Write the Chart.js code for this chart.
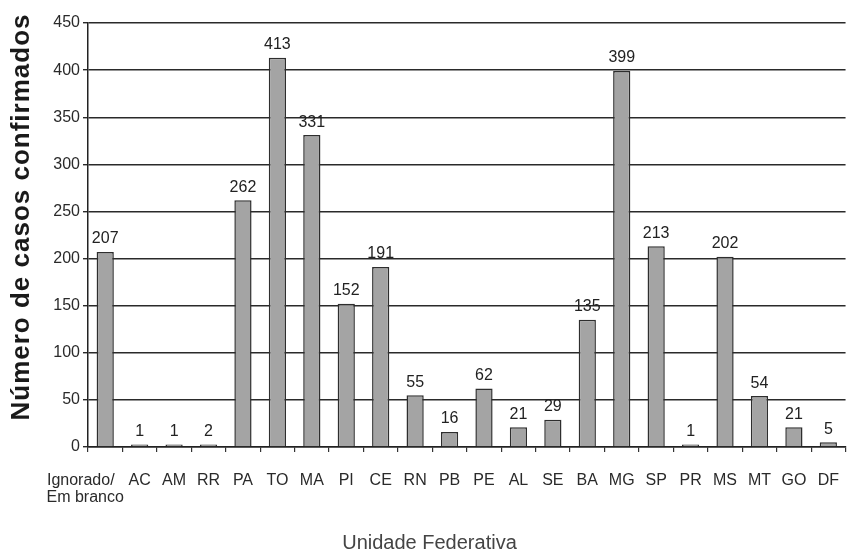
<!DOCTYPE html>
<html>
<head>
<meta charset="utf-8">
<script src="https://cdn.jsdelivr.net/npm/chart.js@4/dist/chart.umd.min.js"></script>
<style>
  html, body { margin: 0; padding: 0; background: #fff; overflow: hidden; }
  canvas { display: block; }
</style>
</head>
<body>
<canvas id="grafico" width="859" height="555"></canvas>
<script>
// Casos confirmados por Unidade Federativa
const categorias = [["Ignorado/", "Em branco"], "AC", "AM", "RR", "PA", "TO", "MA", "PI", "CE", "RN",
  "PB", "PE", "AL", "SE", "BA", "MG", "SP", "PR", "MS", "MT", "GO", "DF"];
const casosConfirmados = [207, 1, 1, 2, 262, 413, 331, 152, 191, 55,
  16, 62, 21, 29, 135, 399, 213, 1, 202, 54, 21, 5];
const eixoY = { min: 0, max: 450, passo: 50 };
const tituloY = "Número de casos confirmados";
const tituloX = "Unidade Federativa";

const fonte = "'Liberation Sans', Arial, sans-serif";

// Valores escritos acima de cada barra
const rotulosValores = {
  id: 'rotulosValores',
  afterDatasetsDraw(chart) {
    const ctx = chart.ctx;
    const meta = chart.getDatasetMeta(0);
    ctx.save();
    ctx.font = "16px " + fonte;
    ctx.fillStyle = "#222";
    ctx.textAlign = "center";
    ctx.textBaseline = "bottom";
    meta.data.forEach((bar, i) => {
      ctx.fillText(String(casosConfirmados[i]), bar.x, bar.y - 5);
    });
    ctx.restore();
  }
};

// Títulos dos eixos
const titulosEixos = {
  id: 'titulosEixos',
  afterDraw(chart) {
    const ctx = chart.ctx;
    ctx.save();
    ctx.translate(22, 217);
    ctx.rotate(-Math.PI / 2);
    ctx.font = "bold 26px " + fonte;
    ctx.letterSpacing = "1px";
    ctx.fillStyle = "#1a1a1a";
    ctx.textAlign = "center";
    ctx.textBaseline = "middle";
    ctx.fillText(tituloY, 0, 0);
    ctx.restore();

    ctx.save();
    ctx.font = "20px " + fonte;
    ctx.fillStyle = "#444";
    ctx.textAlign = "center";
    ctx.textBaseline = "middle";
    ctx.fillText(tituloX, chart.width / 2, 543);
    ctx.restore();
  }
};

// O primeiro rótulo, mais largo que a categoria, fica alinhado à esquerda
function rotuloCategoria(valor, indice) {
  const rotulo = categorias[indice];
  if (Array.isArray(rotulo)) {
    return [rotulo[0] + ' '.repeat(11), rotulo[1] + ' '.repeat(9)];
  }
  return rotulo;
}

new Chart(document.getElementById('grafico'), {
  type: 'bar',
  data: {
    labels: categorias,
    datasets: [{
      data: casosConfirmados,
      backgroundColor: '#a4a4a4',
      borderColor: '#2e2e2e',
      borderWidth: 1.5,
      minBarLength: 2.5,
      categoryPercentage: 1.0,
      barPercentage: 0.5
    }]
  },
  options: {
    responsive: false,
    animation: false,
    layout: { padding: { top: 23, right: 0, bottom: 0, left: 0 } },
    plugins: {
      legend: { display: false },
      tooltip: { enabled: false },
      title: { display: false }
    },
    scales: {
      x: {
        offset: true,
        grid: {
          offset: true,
          drawOnChartArea: false,
          drawTicks: true,
          tickLength: 5,
          color: '#333',
          lineWidth: 1.2
        },
        border: { display: true, color: '#222', width: 1.5 },
        ticks: {
          autoSkip: false,
          maxRotation: 0,
          padding: 20,
          color: '#2a2a2a',
          font: { family: fonte, size: 16, lineHeight: 1.05 },
          callback: rotuloCategoria
        },
        afterFit(scale) { scale.height = 108; }
      },
      y: {
        min: eixoY.min,
        max: eixoY.max,
        ticks: {
          stepSize: eixoY.passo,
          padding: 3,
          color: '#2a2a2a',
          font: { family: fonte, size: 16 }
        },
        grid: {
          color: '#2a2a2a',
          lineWidth: 1.4,
          tickLength: 5,
          drawTicks: true
        },
        border: { display: true, color: '#222', width: 1.5 },
        afterFit(scale) { scale.width = 88; }
      }
    }
  },
  plugins: [rotulosValores, titulosEixos]
});
</script>
</body>
</html>
